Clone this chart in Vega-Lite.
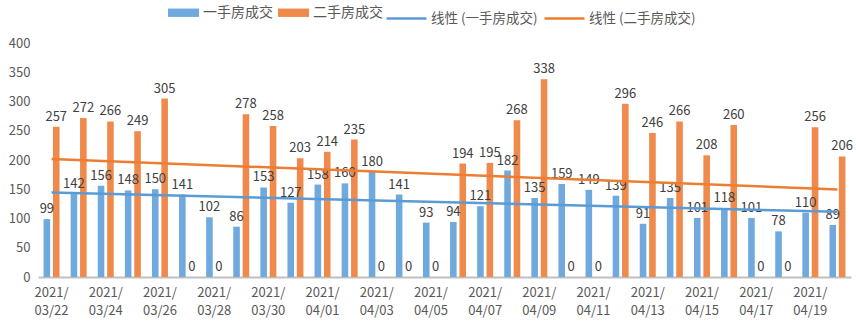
{
  "$schema": "https://vega.github.io/schema/vega-lite/v6.json",
  "width": 813,
  "height": 234,
  "autosize": "none",
  "padding": {"left": 38, "top": 43, "right": 5, "bottom": 46},
  "background": "white",
  "config": {
    "view": {"stroke": null},
    "font": "Noto Sans CJK SC",
    "axisY": {"labelOverlap": false}
  },
  "data": {
    "values": [
      {"d": "2021/03/22", "i": 1, "s": "一手房成交", "t": "线性 (一手房成交)", "v": 99},
      {"d": "2021/03/23", "i": 2, "s": "一手房成交", "t": "线性 (一手房成交)", "v": 142},
      {"d": "2021/03/24", "i": 3, "s": "一手房成交", "t": "线性 (一手房成交)", "v": 156},
      {"d": "2021/03/25", "i": 4, "s": "一手房成交", "t": "线性 (一手房成交)", "v": 148},
      {"d": "2021/03/26", "i": 5, "s": "一手房成交", "t": "线性 (一手房成交)", "v": 150},
      {"d": "2021/03/27", "i": 6, "s": "一手房成交", "t": "线性 (一手房成交)", "v": 141},
      {"d": "2021/03/28", "i": 7, "s": "一手房成交", "t": "线性 (一手房成交)", "v": 102},
      {"d": "2021/03/29", "i": 8, "s": "一手房成交", "t": "线性 (一手房成交)", "v": 86},
      {"d": "2021/03/30", "i": 9, "s": "一手房成交", "t": "线性 (一手房成交)", "v": 153},
      {"d": "2021/03/31", "i": 10, "s": "一手房成交", "t": "线性 (一手房成交)", "v": 127},
      {"d": "2021/04/01", "i": 11, "s": "一手房成交", "t": "线性 (一手房成交)", "v": 158},
      {"d": "2021/04/02", "i": 12, "s": "一手房成交", "t": "线性 (一手房成交)", "v": 160},
      {"d": "2021/04/03", "i": 13, "s": "一手房成交", "t": "线性 (一手房成交)", "v": 180},
      {"d": "2021/04/04", "i": 14, "s": "一手房成交", "t": "线性 (一手房成交)", "v": 141},
      {"d": "2021/04/05", "i": 15, "s": "一手房成交", "t": "线性 (一手房成交)", "v": 93},
      {"d": "2021/04/06", "i": 16, "s": "一手房成交", "t": "线性 (一手房成交)", "v": 94},
      {"d": "2021/04/07", "i": 17, "s": "一手房成交", "t": "线性 (一手房成交)", "v": 121},
      {"d": "2021/04/08", "i": 18, "s": "一手房成交", "t": "线性 (一手房成交)", "v": 182},
      {"d": "2021/04/09", "i": 19, "s": "一手房成交", "t": "线性 (一手房成交)", "v": 135},
      {"d": "2021/04/10", "i": 20, "s": "一手房成交", "t": "线性 (一手房成交)", "v": 159},
      {"d": "2021/04/11", "i": 21, "s": "一手房成交", "t": "线性 (一手房成交)", "v": 149},
      {"d": "2021/04/12", "i": 22, "s": "一手房成交", "t": "线性 (一手房成交)", "v": 139},
      {"d": "2021/04/13", "i": 23, "s": "一手房成交", "t": "线性 (一手房成交)", "v": 91},
      {"d": "2021/04/14", "i": 24, "s": "一手房成交", "t": "线性 (一手房成交)", "v": 135},
      {"d": "2021/04/15", "i": 25, "s": "一手房成交", "t": "线性 (一手房成交)", "v": 101},
      {"d": "2021/04/16", "i": 26, "s": "一手房成交", "t": "线性 (一手房成交)", "v": 118},
      {"d": "2021/04/17", "i": 27, "s": "一手房成交", "t": "线性 (一手房成交)", "v": 101},
      {"d": "2021/04/18", "i": 28, "s": "一手房成交", "t": "线性 (一手房成交)", "v": 78},
      {"d": "2021/04/19", "i": 29, "s": "一手房成交", "t": "线性 (一手房成交)", "v": 110},
      {"d": "2021/04/20", "i": 30, "s": "一手房成交", "t": "线性 (一手房成交)", "v": 89},
      {"d": "2021/03/22", "i": 1, "s": "二手房成交", "t": "线性 (二手房成交)", "v": 257},
      {"d": "2021/03/23", "i": 2, "s": "二手房成交", "t": "线性 (二手房成交)", "v": 272},
      {"d": "2021/03/24", "i": 3, "s": "二手房成交", "t": "线性 (二手房成交)", "v": 266},
      {"d": "2021/03/25", "i": 4, "s": "二手房成交", "t": "线性 (二手房成交)", "v": 249},
      {"d": "2021/03/26", "i": 5, "s": "二手房成交", "t": "线性 (二手房成交)", "v": 305},
      {"d": "2021/03/27", "i": 6, "s": "二手房成交", "t": "线性 (二手房成交)", "v": 0},
      {"d": "2021/03/28", "i": 7, "s": "二手房成交", "t": "线性 (二手房成交)", "v": 0},
      {"d": "2021/03/29", "i": 8, "s": "二手房成交", "t": "线性 (二手房成交)", "v": 278},
      {"d": "2021/03/30", "i": 9, "s": "二手房成交", "t": "线性 (二手房成交)", "v": 258},
      {"d": "2021/03/31", "i": 10, "s": "二手房成交", "t": "线性 (二手房成交)", "v": 203},
      {"d": "2021/04/01", "i": 11, "s": "二手房成交", "t": "线性 (二手房成交)", "v": 214},
      {"d": "2021/04/02", "i": 12, "s": "二手房成交", "t": "线性 (二手房成交)", "v": 235},
      {"d": "2021/04/03", "i": 13, "s": "二手房成交", "t": "线性 (二手房成交)", "v": 0},
      {"d": "2021/04/04", "i": 14, "s": "二手房成交", "t": "线性 (二手房成交)", "v": 0},
      {"d": "2021/04/05", "i": 15, "s": "二手房成交", "t": "线性 (二手房成交)", "v": 0},
      {"d": "2021/04/06", "i": 16, "s": "二手房成交", "t": "线性 (二手房成交)", "v": 194},
      {"d": "2021/04/07", "i": 17, "s": "二手房成交", "t": "线性 (二手房成交)", "v": 195},
      {"d": "2021/04/08", "i": 18, "s": "二手房成交", "t": "线性 (二手房成交)", "v": 268},
      {"d": "2021/04/09", "i": 19, "s": "二手房成交", "t": "线性 (二手房成交)", "v": 338},
      {"d": "2021/04/10", "i": 20, "s": "二手房成交", "t": "线性 (二手房成交)", "v": 0},
      {"d": "2021/04/11", "i": 21, "s": "二手房成交", "t": "线性 (二手房成交)", "v": 0},
      {"d": "2021/04/12", "i": 22, "s": "二手房成交", "t": "线性 (二手房成交)", "v": 296},
      {"d": "2021/04/13", "i": 23, "s": "二手房成交", "t": "线性 (二手房成交)", "v": 246},
      {"d": "2021/04/14", "i": 24, "s": "二手房成交", "t": "线性 (二手房成交)", "v": 266},
      {"d": "2021/04/15", "i": 25, "s": "二手房成交", "t": "线性 (二手房成交)", "v": 208},
      {"d": "2021/04/16", "i": 26, "s": "二手房成交", "t": "线性 (二手房成交)", "v": 260},
      {"d": "2021/04/17", "i": 27, "s": "二手房成交", "t": "线性 (二手房成交)", "v": 0},
      {"d": "2021/04/18", "i": 28, "s": "二手房成交", "t": "线性 (二手房成交)", "v": 0},
      {"d": "2021/04/19", "i": 29, "s": "二手房成交", "t": "线性 (二手房成交)", "v": 256},
      {"d": "2021/04/20", "i": 30, "s": "二手房成交", "t": "线性 (二手房成交)", "v": 206}
    ]
  },
  "layer": [
    {
      "encoding": {
        "x": {
          "field": "d",
          "type": "ordinal",
          "sort": null,
          "scale": {"paddingInner": 0.41, "paddingOuter": 0.205},
          "axis": {
            "title": null,
            "labelAngle": 0,
            "ticks": false,
            "domainColor": "#bfbfbf",
            "domainWidth": 2,
            "labelColor": "#595959",
            "labelFontSize": 13,
            "labelPadding": 9,
            "labelLineHeight": 18,
            "labelBaseline": "top",
            "labelExpr": "[slice(datum.label, 0, 5), slice(datum.label, 5)]",
            "values": ["2021/03/22", "2021/03/24", "2021/03/26", "2021/03/28", "2021/03/30", "2021/04/01", "2021/04/03", "2021/04/05", "2021/04/07", "2021/04/09", "2021/04/11", "2021/04/13", "2021/04/15", "2021/04/17", "2021/04/19"]
          }
        },
        "xOffset": {"field": "s", "type": "nominal", "scale": {"paddingInner": 0.3}},
        "y": {
          "field": "v",
          "type": "quantitative",
          "scale": {"domain": [0, 400]},
          "axis": {
            "title": null,
            "values": [0, 50, 100, 150, 200, 250, 300, 350, 400],
            "grid": false,
            "domain": false,
            "ticks": false,
            "labelOverlap": false,
            "labelColor": "#595959",
            "labelFontSize": 13,
            "labelPadding": 8
          }
        }
      },
      "layer": [
        {
          "mark": {"type": "bar"},
          "encoding": {
            "color": {
              "field": "s",
              "type": "nominal",
              "scale": {
                "domain": ["一手房成交", "二手房成交"],
                "range": ["#70a9de", "#ef8a4c"]
              },
              "legend": {
                "title": null,
                "orient": "none",
                "direction": "horizontal",
                "legendX": 130,
                "legendY": -46,
                "symbolType": "M-1,-0.27H1V0.27H-1Z",
                "symbolStrokeWidth": 0,
                "symbolSize": 961,
                "symbolOpacity": 1,
                "labelFontSize": 14,
                "labelColor": "#595959",
                "labelOffset": 4,
                "columnPadding": 5
              }
            }
          }
        },
        {
          "mark": {"type": "text", "baseline": "bottom", "dy": -3, "fontSize": 13, "color": "#404040"},
          "encoding": {
            "text": {"field": "v", "type": "quantitative"}
          }
        }
      ]
    },
    {
      "transform": [
        {"regression": "v", "on": "i", "groupby": ["t"]}
      ],
      "mark": {"type": "line", "strokeWidth": 2.5},
      "encoding": {
        "x": {
          "field": "i",
          "type": "quantitative",
          "scale": {"domain": [0.5, 30.5], "nice": false, "zero": false},
          "axis": null
        },
        "y": {
          "field": "v",
          "type": "quantitative",
          "axis": {
            "title": null,
            "values": [0, 50, 100, 150, 200, 250, 300, 350, 400],
            "grid": false,
            "domain": false,
            "ticks": false,
            "labelOverlap": false,
            "labelColor": "#595959",
            "labelFontSize": 13,
            "labelPadding": 8
          }
        },
        "color": {
          "field": "t",
          "type": "nominal",
          "scale": {
            "domain": ["线性 (一手房成交)", "线性 (二手房成交)"],
            "range": ["#5b9bd5", "#ed7d31"]
          },
          "legend": {
            "title": null,
            "orient": "none",
            "direction": "horizontal",
            "legendX": 347,
            "legendY": -46,
            "symbolType": "stroke",
            "symbolStrokeWidth": 2.5,
            "symbolSize": 1600,
            "labelFontSize": 13.5,
            "labelColor": "#595959",
            "labelOffset": 3,
            "columnPadding": 1
          }
        }
      }
    }
  ],
  "resolve": {"scale": {"x": "independent", "color": "independent"}}
}
